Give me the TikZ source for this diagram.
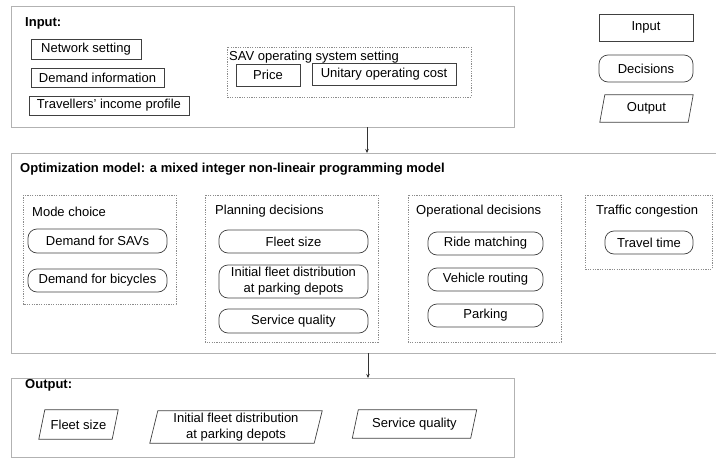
\documentclass[tikz,border=0pt]{standalone}
\usepackage{fontspec}
\setmainfont{Liberation Sans}
\usetikzlibrary{arrows.meta}
\tikzset{
  lbl/.style={font=\fontsize{13}{16}\selectfont, inner sep=0pt},
  ttl/.style={font=\fontsize{13}{16}\selectfont\bfseries, inner sep=0pt, anchor=west},
  dttl/.style={font=\fontsize{13}{16}\selectfont, inner sep=0pt, anchor=west},
  outer/.style={draw=black!30, line width=0.9pt},
  grp/.style={draw=black!45, dash pattern=on 1.2pt off 1.2pt, line width=0.6pt},
  inbox/.style={lbl, draw=black!75, line width=0.7pt},
  decbox/.style={lbl, draw=black!75, line width=0.7pt, rounded corners=9pt, align=center},
  outtxt/.style={lbl, align=center},
  para/.style={draw=black!75, line width=0.7pt},
  flow/.style={draw=black!80, line width=0.6pt, -{Stealth[length=4pt,width=3.5pt]}}
}
\begin{document}
\begin{tikzpicture}[x=1pt,y=-1pt]
\useasboundingbox (0,0) rectangle (716,458);
% ---------- Input block ----------
\draw[outer] (11,6) rectangle (514,127);
\coordinate (inbot) at (367,127);
\node[ttl] (inttl) at (25,23) {Input:};
\node[inbox, minimum width=110pt, minimum height=20pt] (net) at (86,49) {Network setting};
\node[inbox, minimum width=133pt, minimum height=19pt] (dem) at (97.5,77.5) {Demand information};
\node[inbox, minimum width=160pt, minimum height=19pt] (inc) at (109,105.5) {Travellers' income profile};
\draw[grp] (227,47) rectangle (471,97);
\node[dttl] (savttl) at (229,57.5) {SAV operating system setting};
\node[inbox, minimum width=64pt, minimum height=22pt] (price) at (268,75) {Price};
\node[inbox, minimum width=144pt, minimum height=22pt] (cost) at (384,74) {Unitary operating cost};
% ---------- Legend ----------
\node[inbox, minimum width=94pt, minimum height=27pt] (lgin) at (646,27.5) {Input};
\node[decbox, minimum width=94pt, minimum height=27pt] (lgdec) at (646,68.5) {Decisions};
\node[outtxt, minimum width=88pt, minimum height=27pt] (lgout) at (646.5,108.5) {Output};
\draw[para] ([xshift=-2.5pt]lgout.south west) -- ([xshift=2.5pt]lgout.north west) -- ([xshift=2.5pt]lgout.north east) -- ([xshift=-2.5pt]lgout.south east) -- cycle;
% ---------- Optimization block ----------
\draw[outer] (717,153) -- (11,153) -- (11,353) -- (717,353);
\coordinate (opttop) at (367,153);
\coordinate (optbot) at (368,353);
\node[ttl] (optttl) at (20,169.5) {Optimization model: a mixed integer non-lineair programming model};
% Mode choice
\draw[grp] (23,195) rectangle (176,304);
\node[dttl] (modettl) at (32,211.5) {Mode choice};
\node[decbox, minimum width=139pt, minimum height=24pt] (dsav) at (97.5,241) {Demand for SAVs};
\node[decbox, minimum width=139pt, minimum height=23pt] (dbic) at (97.5,280.5) {Demand for bicycles};
% Planning decisions
\draw[grp] (205,195) rectangle (378,342);
\node[dttl] (planttl) at (215,211.5) {Planning decisions};
\node[decbox, minimum width=149pt, minimum height=23pt] (fleet) at (293.5,241.5) {Fleet size};
\node[decbox, minimum width=149pt, minimum height=33pt] (init) at (293.5,281.5) {Initial fleet distribution\\at parking depots};
\node[decbox, minimum width=149pt, minimum height=24pt] (serv) at (293.5,321) {Service quality};
% Operational decisions
\draw[grp] (408,195) rectangle (561,342);
\node[dttl] (operttl) at (416,211.5) {Operational decisions};
\node[decbox, minimum width=115pt, minimum height=23pt] (ride) at (485.5,243.5) {Ride matching};
\node[decbox, minimum width=115pt, minimum height=23pt] (route) at (485.5,279.5) {Vehicle routing};
\node[decbox, minimum width=115pt, minimum height=23pt] (park) at (485.5,315.5) {Parking};
% Traffic congestion
\draw[grp] (585,195) rectangle (712,269);
\node[dttl] (trafttl) at (596,211.5) {Traffic congestion};
\node[decbox, minimum width=88pt, minimum height=23pt] (ttime) at (649,242.5) {Travel time};
% ---------- Output block ----------
\draw[outer] (11,378) rectangle (514,457);
\coordinate (outtop) at (368,378);
\node[ttl] (outttl) at (25,385.5) {Output:};
\node[outtxt, minimum width=73pt, minimum height=29pt] (ofleet) at (78.5,424.5) {Fleet size};
\draw[para] ([xshift=-3pt]ofleet.south west) -- ([xshift=3pt]ofleet.north west) -- ([xshift=3pt]ofleet.north east) -- ([xshift=-3pt]ofleet.south east) -- cycle;
\node[outtxt, minimum width=164pt, minimum height=32pt] (oinit) at (236,427) {Initial fleet distribution\\at parking depots};
\draw[para] ([xshift=-4pt]oinit.south west) -- ([xshift=4pt]oinit.north west) -- ([xshift=4pt]oinit.north east) -- ([xshift=-4pt]oinit.south east) -- cycle;
\node[outtxt, minimum width=118pt, minimum height=28pt] (oserv) at (414.5,424) {Service quality};
\draw[para] ([xshift=-3pt]oserv.south west) -- ([xshift=3pt]oserv.north west) -- ([xshift=3pt]oserv.north east) -- ([xshift=-3pt]oserv.south east) -- cycle;
% ---------- Flow arrows ----------
\draw[flow] (inbot) -- (opttop);
\draw[flow] (optbot) -- (outtop);
\end{tikzpicture}
\end{document}
